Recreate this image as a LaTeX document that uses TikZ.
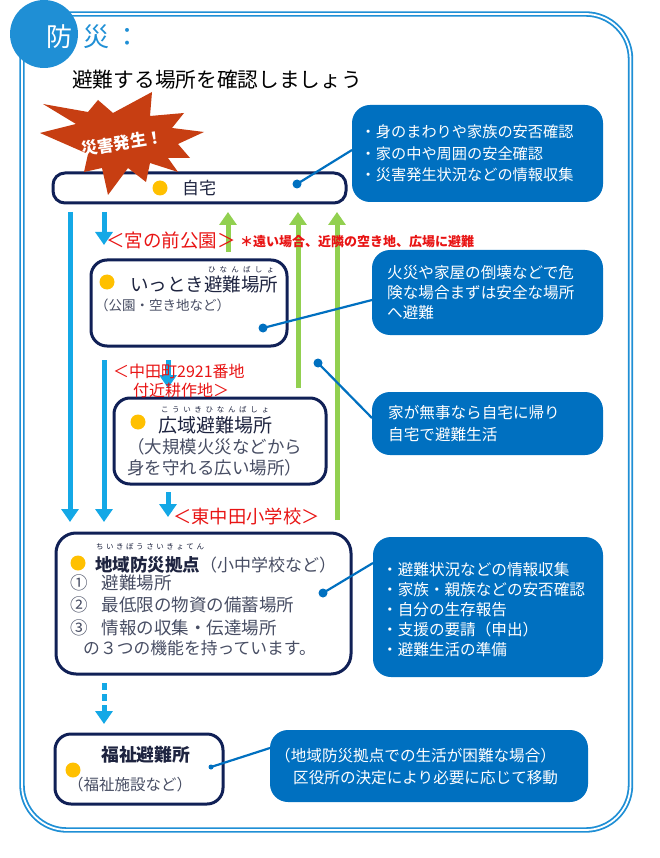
\documentclass[tikz,border=0pt]{standalone}
\usepackage{fontspec}
\setmainfont{Noto Sans CJK JP}
\usetikzlibrary{arrows.meta,positioning,calc}
\definecolor{frameblue}{RGB}{31,143,213}
\definecolor{noteblue}{RGB}{0,112,192}
\definecolor{navy}{RGB}{16,32,86}
\definecolor{ink}{RGB}{30,36,64}
\definecolor{subink}{RGB}{72,78,100}
\definecolor{gonblue}{RGB}{20,168,230}
\definecolor{backgreen}{RGB}{146,208,80}
\definecolor{alertred}{RGB}{232,20,20}
\definecolor{pinyellow}{RGB}{255,192,0}
\definecolor{burstred}{RGB}{199,62,18}
\newcommand{\furi}[2]{\makebox[#1][s]{#2}}

\begin{document}
\begin{tikzpicture}[x=1pt,y=-1pt,
    shelter/.style={draw=navy,line width=3pt,fill=white,rounded corners=16pt,outer sep=0pt},
    memo/.style={fill=noteblue,rounded corners=18pt,outer sep=0pt},
    memotext/.style={anchor=west,align=left,text=white,inner sep=0pt},
    boxtext/.style={anchor=west,text=ink,inner sep=0pt},
    redtag/.style={anchor=west,text=alertred,inner sep=0pt},
    spot/.style={fill=pinyellow},
    godown/.style={gonblue,line width=5pt,-{Triangle[width=17pt,length=13pt]}},
    goback/.style={backgreen,line width=5pt,-{Triangle[width=17pt,length=13pt]}},
    wire/.style={noteblue,line width=2.2pt}]
  \useasboundingbox (0,0) rectangle (660,858);

  % frame and heading
  \draw[frameblue,line width=1.8pt,double=white,double distance=1.8pt,rounded corners=45pt]
    (22,14) rectangle (630.5,830);
  \fill[frameblue] (44,34) circle[radius=34pt];
  \node[text=white,font=\fontsize{26}{30}\selectfont] (badge) at (59.5,37) {防};
  \node[text=frameblue,font=\fontsize{26}{30}\selectfont] (badge2) at (96,37) {災};
  \node[text=frameblue,font=\fontsize{26}{30}\selectfont] (badge3) at (127,37) {：};
  \node[anchor=west,inner sep=0pt,font=\fontsize{20.7}{24}\selectfont] (title) at (72,80)
    {避難する場所を確認しましょう};

  % places
  \node[shelter,rounded corners=12pt,minimum width=293pt,minimum height=30pt] (home) at (199.5,188) {};
  \node[shelter,minimum width=196pt,minimum height=86pt] (ittoki) at (189,303) {};
  \node[shelter,minimum width=212pt,minimum height=86pt] (kouiki) at (220,441) {};
  \node[shelter,rounded corners=20pt,minimum width=295pt,minimum height=141pt] (kyoten) at (203.5,603.5) {};
  \node[shelter,minimum width=168pt,minimum height=70pt] (fukushi) at (139,769) {};

  % burst
  \fill[burstred] (40,133) -- (76,124) -- (43,104) -- (88,112) -- (98,100) -- (113,113)
    -- (152,92) -- (150,116) -- (184,113) -- (172,128) -- (204,132) -- (178,144)
    -- (190,158) -- (168,158) -- (178,172) -- (150,163) -- (146,182) -- (128,168)
    -- (108,195) -- (102,168) -- (84,172) -- (88,154) -- cycle;
  \node[text=white,rotate=9,font=\bfseries\fontsize{16.5}{20}\selectfont] (alert) at (122,143) {災害発生！};

  % arrows
  \coordinate (xa) at (70,0);
  \coordinate (xb) at (104,0);
  \coordinate (xc) at (168,0);
  \coordinate (xg1) at (228,0);
  \coordinate (xg2) at (298,0);
  \coordinate (xg3) at (337,0);
  \draw[godown,shorten <=9pt,shorten >=11pt] (home.south -| xa) -- (kyoten.north -| xa);
  \draw[godown,shorten <=9pt,shorten >=15pt] (home.south -| xb) -- (ittoki.north -| xb);
  \draw[godown,shorten <=14pt,shorten >=11pt] (ittoki.south -| xb) -- (kyoten.north -| xb);
  \draw[godown,shorten <=14pt,shorten >=10pt] (ittoki.south -| xc) -- (kouiki.north -| xc);
  \draw[godown,shorten <=8pt,shorten >=16pt] (kouiki.south -| xc) -- (kyoten.north -| xc);
  \draw[godown,dash pattern=on 7pt off 4pt,shorten <=9pt,shorten >=10pt] (kyoten.south -| xb) -- (fukushi.north -| xb);
  \draw[goback,shorten <=8pt,shorten >=9pt] (ittoki.north -| xg1) -- (home.south -| xg1);
  \draw[goback,shorten <=10pt,shorten >=9pt] (kouiki.north -| xg2) -- (home.south -| xg2);
  \draw[goback,shorten <=13pt,shorten >=9pt] (kyoten.north -| xg3) -- (home.south -| xg3);

  % red place names
  \node[redtag,font=\fontsize{18.5}{22}\selectfont] (park) at (106,240) {＜宮の前公園＞};
  \node[redtag,font=\bfseries\fontsize{13}{16}\selectfont] (parknote) at (240,242) {＊遠い場合、近隣の空き地、広場に避難};
  \node[redtag,align=left,font=\fontsize{16}{18.5}\selectfont] (field) at (113,381)
    {＜中田町2921番地\\\hspace*{20pt}付近耕作地＞};
  \node[redtag,font=\fontsize{18.3}{22}\selectfont] (school) at (173,517) {＜東中田小学校＞};

  % texts in the places
  \foreach \p in {(160,188),(107,282),(138,422),(78,563),(73,770)}
    \fill[spot] \p circle[radius=7.5pt];
  \node[boxtext,font=\fontsize{17}{20}\selectfont] (hometxt) at (182,188) {自宅};

  \node[text=ink,inner sep=0pt,font=\fontsize{7.5}{9}\selectfont] (ittokiruby) at (241,270)
    {\furi{66pt}{ひ\hfil な\hfil ん\hfil ば\hfil し\hfil ょ}};
  \node[boxtext,font=\fontsize{18.5}{22}\selectfont] (ittokitxt) at (130,285) {いっとき避難場所};
  \node[boxtext,text=subink,font=\fontsize{13.5}{16}\selectfont] (ittokisub) at (95,305) {（公園・空き地など）};

  \node[text=ink,inner sep=0pt,font=\fontsize{7.5}{9}\selectfont] (kouikiruby) at (215,410)
    {\furi{108pt}{こ\hfil う\hfil い\hfil き\hfil ひ\hfil な\hfil ん\hfil ば\hfil し\hfil ょ}};
  \node[boxtext,font=\fontsize{19}{22}\selectfont] (kouikitxt) at (158,425) {広域避難場所};
  \node[boxtext,text=subink,align=left,font=\fontsize{17.5}{21}\selectfont] (kouikisub) at (127,457.5)
    {（大規模火災などから\\身を守れる広い場所）};

  \node[text=ink,inner sep=0pt,font=\fontsize{7.5}{9}\selectfont] (kyotenruby) at (150,547)
    {\furi{108pt}{ち\hfil い\hfil き\hfil ぼ\hfil う\hfil さ\hfil い\hfil き\hfil ょ\hfil て\hfil ん}};
  \node[boxtext,font=\bfseries\fontsize{17.5}{21}\selectfont] (kyotentxt) at (95,565) {地域防災拠点};
  \node[boxtext,text=subink,font=\fontsize{17}{21}\selectfont] (kyotensub) at (200,565) {（小中学校など）};
  \foreach \t [count=\i] in {①\hskip14pt 避難場所,②\hskip14pt 最低限の物資の備蓄場所,③\hskip14pt 情報の収集・伝達場所}
    \node[boxtext,text=subink,font=\fontsize{17.5}{21}\selectfont] (kyoten\i) at (70,560+22.5*\i) {\t};
  \node[boxtext,text=subink,font=\fontsize{16.8}{21}\selectfont] (kyoten4) at (83,648) {の３つの機能を持っています。};

  \node[boxtext,font=\bfseries\fontsize{17.8}{21}\selectfont] (fukushitxt) at (101,755) {福祉避難所};
  \node[boxtext,text=subink,font=\fontsize{15.5}{19}\selectfont] (fukushisub) at (68,785) {（福祉施設など）};

  % notes
  \node[memo,minimum width=251pt,minimum height=97pt] (m1) at (477.5,153.5) {};
  \node[memotext,font=\fontsize{15.2}{21.5}\selectfont] (m1t) at (360.5,153.5)
    {・身のまわりや家族の安否確認\\・家の中や周囲の安全確認\\・災害発生状況などの情報収集};
  \node[memo,minimum width=231pt,minimum height=85pt] (m2) at (487.5,292.5) {};
  \node[memotext,font=\fontsize{15.6}{20}\selectfont] (m2t) at (387,293)
    {火災や家屋の倒壊などで危\\険な場合まずは安全な場所\\へ避難};
  \node[memo,minimum width=231pt,minimum height=63pt] (m3) at (487.5,423.5) {};
  \node[memotext,font=\fontsize{15.6}{22}\selectfont] (m3t) at (388,424)
    {家が無事なら自宅に帰り\\自宅で避難生活};
  \node[memo,minimum width=230pt,minimum height=140pt] (m4) at (488,607) {};
  \node[memotext,font=\fontsize{15.6}{20}\selectfont] (m4t) at (382,610)
    {・避難状況などの情報収集\\・家族・親族などの安否確認\\・自分の生存報告\\・支援の要請（申出）\\・避難生活の準備};
  \node[memo,minimum width=318pt,minimum height=72pt] (m5) at (429,766) {};
  \node[memotext,font=\fontsize{15.6}{22}\selectfont] (m5t) at (275,766)
    {（地域防災拠点での生活が困難な場合）\\\hspace*{18pt}区役所の決定により必要に応じて移動};

  % leader lines
  \coordinate (d1) at (297,184);
  \coordinate (d2) at (263,328);
  \coordinate (d3) at (318,363);
  \coordinate (d4) at (323,593);
  \coordinate (d5) at (211,767);
  \draw[wire] (d1) -- ([yshift=3.5pt]m1.west);
  \draw[wire] (d2) -- ([yshift=-7.5pt]m2.west);
  \draw[wire] (d3) -- ([yshift=5.5pt]m3.west);
  \draw[wire] (d4) -- ([yshift=44pt]m4.west);
  \draw[wire] (d5) -- ([yshift=18pt]m5.west);
  \foreach \d in {d1,d2,d3,d4}
    \fill[noteblue] (\d) circle[radius=4.5pt];
  \fill[noteblue] (d5) circle[radius=2.5pt];
\end{tikzpicture}
\end{document}
